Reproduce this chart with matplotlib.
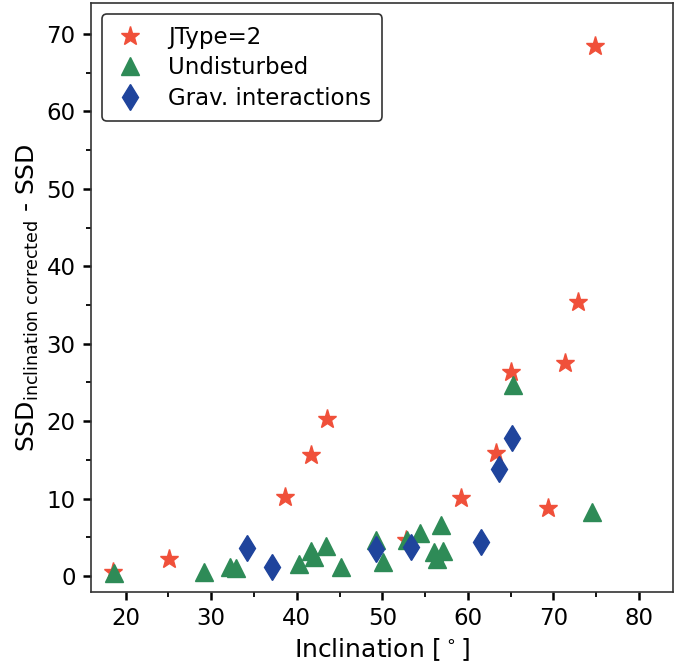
import matplotlib
matplotlib.use("Agg")
from matplotlib import pyplot as plt, ticker

# JType=2
jtype_x = [18.5, 25.1, 38.6, 41.7, 43.5, 52.8, 59.2, 63.3, 65.0, 69.3, 71.4, 72.9, 74.8]
jtype_y = [0.5, 2.2, 10.2, 15.6, 20.3, 4.7, 10.1, 15.9, 26.4, 8.8, 27.5, 35.4, 68.4]

# Undisturbed
undist_x = [18.6, 29.2, 32.2, 32.9, 40.2, 41.7, 42.0, 43.4, 45.2, 49.3,
            50.1, 52.9, 54.4, 56.9, 56.0, 56.4, 57.1, 65.3, 74.5]
undist_y = [0.35, 0.55, 1.1, 1.0, 1.5, 3.2, 2.5, 3.9, 1.2, 4.6,
            1.85, 4.6, 5.6, 6.6, 3.1, 2.2, 3.2, 24.7, 8.2]

# Grav. interactions
grav_x = [34.2, 37.1, 49.3, 53.4, 61.5, 63.6, 65.1]
grav_y = [3.6, 1.1, 3.5, 3.8, 4.4, 13.8, 17.8]

plt.rcParams["font.family"] = "DejaVu Sans"

fig = plt.figure(figsize=(6.91, 6.64), dpi=100)
ax = fig.add_axes([0.1317, 0.1084, 0.8423, 0.8871])

ax.plot(jtype_x, jtype_y, ls="none", marker="*", ms=14, color="#F0503A",
        mec="#F0503A", label="JType=2")
ax.plot(undist_x, undist_y, ls="none", marker="^", ms=12.5, color="#2E8B57",
        mec="#2E8B57", label="Undisturbed")
ax.plot(grav_x, grav_y, ls="none", marker="d", ms=13, color="#1F449C",
        mec="#1F449C", label="Grav. interactions")

ax.set_xlim(15.95, 83.97)
ax.set_ylim(-2.07, 74.0)
ax.xaxis.set_major_locator(ticker.MultipleLocator(10))
ax.xaxis.set_minor_locator(ticker.MultipleLocator(5))
ax.yaxis.set_major_locator(ticker.MultipleLocator(10))
ax.yaxis.set_minor_locator(ticker.MultipleLocator(5))
ax.tick_params(which="major", length=6, width=1.8, labelsize=16.5, pad=5)
ax.tick_params(which="minor", length=3.5, width=1.3)
for sp in ax.spines.values():
    sp.set_linewidth(1.2)
    sp.set_color("#333333")

ax.set_xlabel(r"Inclination [$^\circ$]", fontsize=18)
ax.set_ylabel(r"SSD$_{\mathrm{inclination\ corrected}}$ - SSD", fontsize=18)

leg = ax.legend(loc="upper left", fontsize=16.5, frameon=True, framealpha=1,
                edgecolor="#333333", borderpad=0.5, handlelength=1.4,
                handletextpad=0.95, labelspacing=0.32)
leg.get_frame().set_linewidth(1.2)

fig.savefig("out.png", dpi=100)
